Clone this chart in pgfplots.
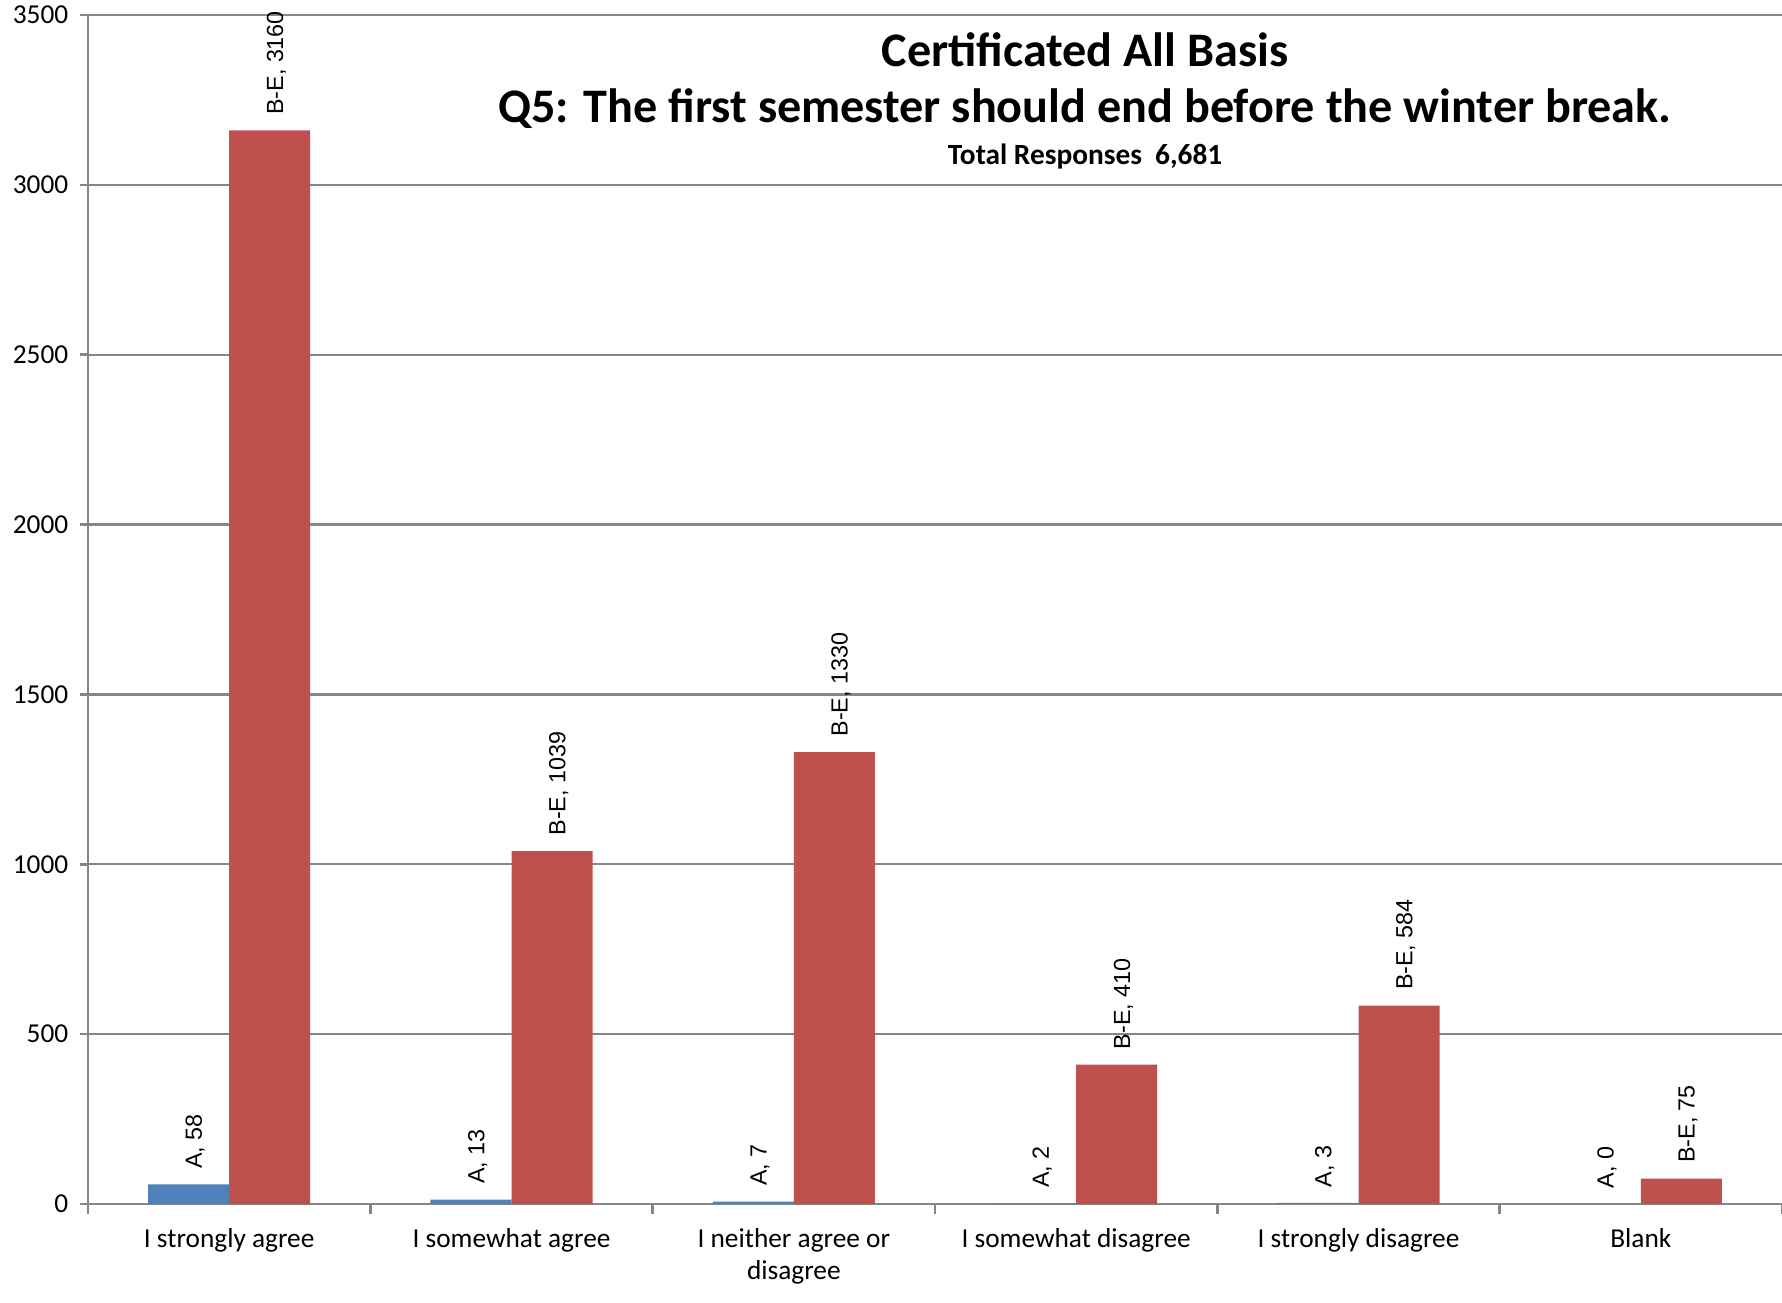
\documentclass[border=0pt]{standalone}
\usepackage{fontspec}
\setmainfont{Carlito}
\newfontfamily\arialf{Liberation Sans}
\usepackage{pgfplots}
\pgfplotsset{compat=1.18}

\definecolor{gridgray}{RGB}{134,134,134}
\definecolor{barA}{RGB}{79,129,189}
\definecolor{barBE}{RGB}{192,80,77}

\begin{document}
\begin{tikzpicture}
\begin{axis}[
  scale only axis, width=508.2pt, height=356.7pt,
  xmin=-0.5, xmax=5.5, ymin=0, ymax=3500,
  clip=false,
  axis x line*=bottom, axis y line*=left,
  axis line style={draw=gridgray, line width=0.8pt},
  ytick={0,500,...,3500},
  ymajorgrids, grid style={draw=gridgray, line width=0.7pt},
  xtick={0,1,2,3,4,5},
  xticklabels={I strongly agree, I somewhat agree, {I neither agree or\\disagree}, I somewhat disagree, I strongly disagree, Blank},
  minor xtick={-0.5,0.5,1.5,2.5,3.5,4.5,5.5},
  tick align=outside,
  major tick length=2.4pt, minor tick length=3pt,
  tick style={draw=gridgray, line width=0.8pt},
  major x tick style={draw=none},
  xticklabel style={align=center, yshift=-1.5pt},
  tick label style={font=\fontsize{8.2}{9.6}\selectfont},
  /pgf/number format/assume math mode=true,
  /pgf/number format/1000 sep={},
  every node near coord/.append style={rotate=90, anchor=west, inner sep=4.5pt,
    font=\arialf\fontsize{7}{8}\selectfont, text=black, yshift=-2pt},
]
% bars sit at category -/+ half a bar width
\addplot[ybar, bar width=0.287, bar shift=0, fill=barA, draw=none,
  nodes near coords={{A, \pgfmathprintnumber{\pgfplotspointmeta}}}]
  coordinates {(-0.1435,58) (0.8565,13) (1.8565,7) (2.8565,2) (3.8565,3) (4.8565,0)};
\addplot[ybar, bar width=0.287, bar shift=0, fill=barBE, draw=none,
  nodes near coords={{B-E, \pgfmathprintnumber{\pgfplotspointmeta}}}]
  coordinates {(0.1435,3160) (1.1435,1039) (2.1435,1330) (3.1435,410) (4.1435,584) (5.1435,75)};
\node[font=\bfseries\fontsize{14.45}{16}\selectfont] at (rel axis cs:0.5886,0.9706) {Certificated All Basis};
\node[font=\bfseries\fontsize{14.45}{16}\selectfont] at (rel axis cs:0.5886,0.9209) {Q5: The first semester should end before the winter break.};
\node[font=\bfseries\fontsize{8.8}{10}\selectfont] at (rel axis cs:0.5886,0.8814) {Total Responses\ \ 6,681};
\coordinate (bl) at (rel axis cs:0,0);
\coordinate (tr) at (rel axis cs:1,1);
\end{axis}
\pgfresetboundingbox
\path[use as bounding box] ([xshift=-26.4pt,yshift=-29.4pt]bl) rectangle ([yshift=4.5pt]tr);
\end{tikzpicture}
\end{document}
